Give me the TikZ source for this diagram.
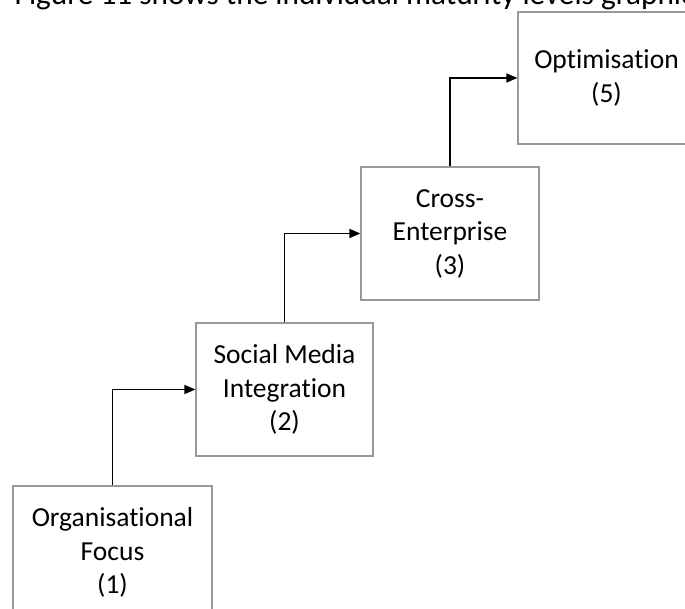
\documentclass[tikz,border=0pt]{standalone}
\usepackage{fontspec}
\setmainfont{Carlito}[Ligatures=NoCommon]
\usetikzlibrary{arrows.meta}

\tikzset{
  level/.style={draw=black!40, line width=1.2pt, fill=white, rectangle,
    align=center, inner sep=0pt, minimum height=133pt,
    font=\fontsize{27.5}{33.5}\selectfont},
  stepup/.style={draw=black, line width=1.6pt,
    -{Triangle[length=11pt,width=9pt]}},
  lead/.style={font=\fontsize{31.3}{38}\selectfont, inner sep=0pt, anchor=base west}
}

\begin{document}
\begin{tikzpicture}[x=1pt,y=1pt]
  \useasboundingbox (0,0) rectangle (685,609);
  \clip (0,0) rectangle (685,609);

  % running text line above the figure
  \node[lead] (caption) at (14.5,604) {Figure 11 shows the individual maturity levels graphically};

  % maturity levels as a staircase
  \node[level, minimum width=199pt] (l1) at (112.5,56.5) {Organisational\\Focus\\(1)};
  \node[level, minimum width=177pt] (l2) at (284.5,219.5) {Social Media\\Integration\\(2)};
  \node[level, minimum width=178pt] (l3) at (450,375.5) {Cross-\\Enterprise\\(3)};
  \node[level, minimum width=177pt, minimum height=132pt] (l5) at (606.5,531) {Optimisation\\(5)};

  % connectors from each level to the next
  \draw[stepup] (l1.north) |- (l2.west);
  \draw[stepup] (l2.north) |- (l3.west);
  \draw[stepup] (l3.north) |- (l5.west);
\end{tikzpicture}
\end{document}
